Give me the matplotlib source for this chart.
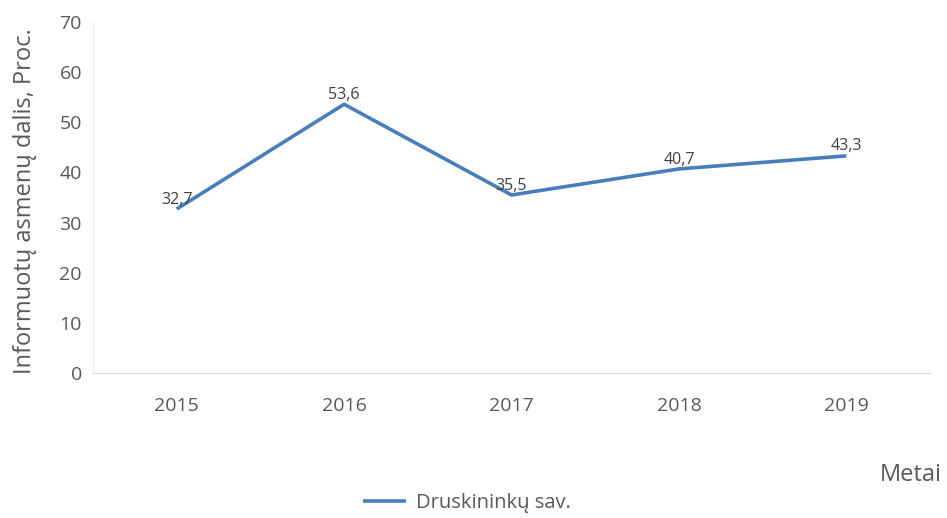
import matplotlib
matplotlib.use("Agg")
import matplotlib.pyplot as plt

years = ["2015", "2016", "2017", "2018", "2019"]
values = [32.7, 53.6, 35.5, 40.7, 43.3]
value_labels = ["32,7", "53,6", "35,5", "40,7", "43,3"]
series_name = "Druskininkų sav."

plt.rcParams['font.family'] = ['Open Sans', 'DejaVu Sans']

fig = plt.figure(figsize=(9.47, 5.18), dpi=100)
ax = fig.add_axes([93/947, 1-373/518, (930-93)/947, (373-22)/518])

x = list(range(len(years)))
line, = ax.plot(x, values, color='#4a7ebb', linewidth=2.6, solid_capstyle='butt', label=series_name)
for xi, v, lab in zip(x, values, value_labels):
    ax.annotate(lab, (xi, v), xytext=(0, 1), textcoords='offset points',
                ha='center', va='bottom', fontsize=11.5, color='#404040')

ax.set_xlim(-0.5, len(years) - 0.5)
ax.set_ylim(0, 70)
ax.set_yticks(range(0, 71, 10))
ax.set_xticks(x)
ax.set_xticklabels(years)
ax.tick_params(axis='both', length=0, labelsize=14, colors='#595959')
ax.tick_params(axis='y', pad=8)
ax.tick_params(axis='x', pad=17)

for s in ['top', 'right']:
    ax.spines[s].set_visible(False)
ax.spines['bottom'].set_color('#d9d9d9')
ax.spines['left'].set_color('#f0f0f0')

fig.text(25/947, 1-201/518, "Informuotų asmenų dalis, Proc.", rotation=90,
         ha='center', va='center', fontsize=17, color='#595959')
fig.text(942/947, 1-475/518, "Metai", ha='right', va='center', fontsize=17, color='#595959')

fig.legend(handles=[line], loc='center', bbox_to_anchor=(467/947, 1-503/518), frameon=False,
           fontsize=14.5, labelcolor='#595959', handlelength=2.1, handletextpad=0.5)

fig.savefig("out.png", dpi=100, facecolor='white')
